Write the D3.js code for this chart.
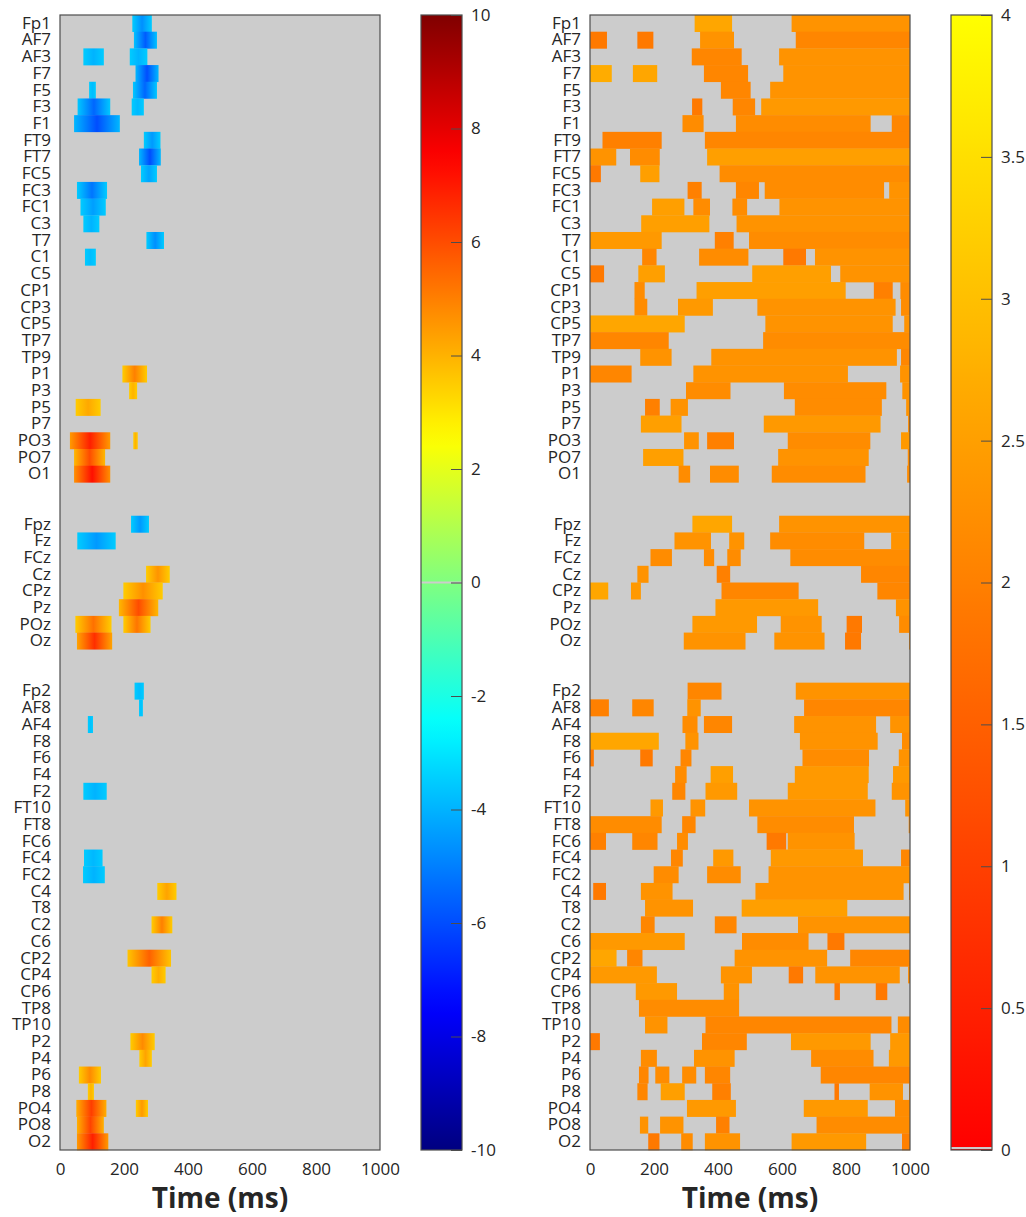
<!DOCTYPE html>
<html>
<head>
<meta charset="UTF-8">
<title>Time-channel maps</title>
<script src="https://cdn.jsdelivr.net/npm/d3@7/dist/d3.min.js"></script>
<style>
  body { margin: 0; background: #fff; }
  svg text { font-family: "Open Sans", "Noto Sans", sans-serif; fill: #262626; }
</style>
</head>
<body>
<svg width="1026" height="1217"></svg>
<script>
// channel rows, null = blank spacer row
var channels = ["Fp1","AF7","AF3","F7","F5","F3","F1","FT9","FT7","FC5","FC3","FC1","C3","T7","C1","C5",
  "CP1","CP3","CP5","TP7","TP9","P1","P3","P5","P7","PO3","PO7","O1", null, null,
  "Fpz","Fz","FCz","Cz","CPz","Pz","POz","Oz", null, null,
  "Fp2","AF8","AF4","F8","F6","F4","F2","FT10","FT8","FC6","FC4","FC2","C4","T8","C2","C6",
  "CP2","CP4","CP6","TP8","TP10","P2","P4","P6","P8","PO4","PO8","O2"];

var timeTicks = [0, 200, 400, 600, 800, 1000];
var leftTicks = [-10, -8, -6, -4, -2, 0, 2, 4, 6, 8, 10];
var rightTicks = [0, 0.5, 1, 1.5, 2, 2.5, 3, 3.5, 4];

// [channel, start ms, end ms, peak value]
var leftSegs = [
  ["Fp1",226,287,-4.7], ["AF7",231,303,-5.7],
  ["AF3",73,137,-4.0], ["AF3",218,273,-4.0],
  ["F7",236,308,-6.0],
  ["F5",91,112,-3.8], ["F5",228,303,-5.5],
  ["F3",55,157,-5.5], ["F3",224,262,-3.9],
  ["F1",44,187,-6.0], ["FT9",262,314,-4.5], ["FT7",247,315,-6.0],
  ["FC5",253,303,-4.3], ["FC3",53,147,-5.2], ["FC1",64,143,-4.4],
  ["C3",73,123,-4.0], ["T7",270,325,-4.7], ["C1",78,112,-3.8],
  ["P1",195,272,5.0], ["P3",216,241,4.0], ["P5",49,127,4.2],
  ["PO3",31,157,6.9], ["PO3",229,243,4.0],
  ["PO7",44,141,6.0], ["O1",44,157,7.2],
  ["Fpz",222,278,-4.5], ["Fz",54,174,-4.5], ["Cz",269,343,4.6],
  ["CPz",198,321,4.7], ["Pz",184,307,6.0],
  ["POz",48,161,5.3], ["POz",198,283,5.2], ["Oz",53,163,6.6],
  ["Fp2",233,262,-3.8], ["AF8",247,259,-3.7], ["AF4",87,103,-3.7],
  ["F2",73,146,-4.0], ["FC4",75,133,-3.9], ["FC2",72,140,-4.0],
  ["C4",304,364,4.3], ["C2",286,351,5.0], ["CP2",211,347,5.6], ["CP4",286,330,4.1],
  ["P2",220,296,4.8], ["P4",248,287,4.3], ["P6",59,128,4.8], ["P8",87,106,4.0],
  ["PO4",51,145,6.3], ["PO4",237,275,4.5], ["PO8",53,137,6.2], ["O2",53,151,6.9]
];

var rightSegs = [
  ["Fp1",327,444,2.6],["Fp1",630,1000,2.3],
  ["AF7",0,53,1.9],["AF7",148,198,1.9],["AF7",344,450,2.3],["AF7",643,1000,2.1],
  ["AF3",318,474,2.1],["AF3",591,1000,2.3],
  ["F7",0,68,2.7],["F7",134,210,2.6],["F7",356,494,2.1],["F7",604,1000,2.3],
  ["F5",409,502,2.1],["F5",563,1000,2.3],
  ["F3",319,351,1.9],["F3",446,516,2.1],["F3",535,1000,2.4],
  ["F1",289,355,2.2],["F1",456,877,2.2],["F1",943,1000,2.1],
  ["FT9",39,224,2.0],["FT9",359,1000,2.1],
  ["FT7",0,82,2.3],["FT7",125,218,2.2],["FT7",366,1000,2.5],
  ["FC5",0,34,1.9],["FC5",157,217,2.5],["FC5",405,1000,2.2],
  ["FC3",305,349,2.0],["FC3",456,528,2.1],["FC3",546,919,2.2],["FC3",935,1000,2.3],
  ["FC1",194,295,2.5],["FC1",323,375,2.2],["FC1",445,491,2.2],["FC1",592,1000,2.3],
  ["C3",160,373,2.5],["C3",458,1000,2.3],
  ["T7",0,224,2.4],["T7",390,449,2.0],["T7",497,1000,2.2],
  ["C1",163,208,2.1],["C1",341,495,2.2],["C1",604,675,1.9],["C1",703,1000,2.3],
  ["C5",0,44,1.9],["C5",151,234,2.5],["C5",507,753,2.5],["C5",782,1000,2.3],
  ["CP1",139,171,2.2],["CP1",333,799,2.5],["CP1",887,946,2.0],["CP1",970,1000,2.2],
  ["CP3",139,179,2.2],["CP3",275,384,2.4],["CP3",523,955,2.3],["CP3",972,1000,2.2],
  ["CP5",0,296,2.6],["CP5",548,946,2.3],["CP5",982,1000,2.3],
  ["TP7",0,246,2.1],["TP7",541,1000,2.2],
  ["TP9",157,255,2.3],["TP9",379,959,2.3],["TP9",972,1000,2.1],
  ["P1",0,130,2.1],["P1",323,806,2.3],["P1",969,1000,2.3],
  ["P3",300,439,2.2],["P3",606,926,2.2],["P3",976,1000,2.3],
  ["P5",172,218,2.0],["P5",252,306,2.3],["P5",640,912,2.2],["P5",988,1000,2.3],
  ["P7",159,286,2.5],["P7",543,908,2.4],["P7",994,1000,2.2],
  ["PO3",294,340,2.3],["PO3",366,450,2.0],["PO3",618,876,2.2],["PO3",972,1000,2.4],
  ["PO7",166,292,2.5],["PO7",588,871,2.3],["PO7",993,1000,2.2],
  ["O1",277,313,2.2],["O1",375,465,2.2],["O1",568,861,2.2],["O1",991,1000,2.2],
  ["Fpz",320,444,2.6],["Fpz",591,1000,2.3],
  ["Fz",264,378,2.3],["Fz",435,482,2.3],["Fz",563,857,2.2],["Fz",941,1000,2.3],
  ["FCz",189,256,2.2],["FCz",356,388,2.2],["FCz",429,471,2.2],["FCz",626,1000,2.2],
  ["Cz",148,183,2.3],["Cz",396,438,2.0],["Cz",847,1000,2.1],
  ["CPz",0,57,2.6],["CPz",128,159,2.4],["CPz",411,652,2.1],["CPz",898,1000,2.1],
  ["Pz",392,713,2.4],["Pz",956,1000,2.3],
  ["POz",320,522,2.4],["POz",596,724,2.3],["POz",802,850,1.9],["POz",966,1000,2.2],
  ["Oz",293,486,2.3],["Oz",576,733,2.3],["Oz",797,847,1.9],["Oz",997,1000,2.2],
  ["Fp2",305,411,2.1],["Fp2",643,1000,2.3],
  ["AF8",0,59,2.0],["AF8",132,199,2.1],["AF8",304,346,2.3],["AF8",669,1000,2.1],
  ["AF4",289,336,2.2],["AF4",356,444,2.1],["AF4",638,894,2.3],["AF4",938,1000,2.3],
  ["F8",0,215,2.6],["F8",298,339,2.3],["F8",656,899,2.3],["F8",975,1000,2.2],
  ["F6",0,12,1.9],["F6",157,196,1.9],["F6",283,317,2.1],["F6",664,872,2.2],["F6",965,1000,2.3],
  ["F4",266,302,2.2],["F4",377,447,2.5],["F4",640,871,2.4],["F4",947,1000,2.4],
  ["F2",257,298,2.1],["F2",361,460,2.4],["F2",618,868,2.4],["F2",943,1000,2.3],
  ["FT10",189,228,2.4],["FT10",314,360,2.3],["FT10",497,892,2.3],["FT10",985,1000,2.3],
  ["FT8",0,224,2.2],["FT8",288,330,2.1],["FT8",523,825,2.2],["FT8",996,1000,2.2],
  ["FC6",0,50,2.0],["FC6",132,211,2.1],["FC6",272,306,2.2],["FC6",552,613,1.9],["FC6",618,827,2.3],
  ["FC4",253,290,2.1],["FC4",385,448,2.4],["FC4",565,853,2.4],["FC4",972,1000,2.1],
  ["FC2",199,277,2.2],["FC2",366,471,2.2],["FC2",558,1000,2.3],
  ["C4",10,50,1.9],["C4",159,258,2.3],["C4",517,980,2.3],["C4",997,1000,2.2],
  ["T8",172,322,2.3],["T8",474,804,2.5],
  ["C2",159,202,2.1],["C2",390,458,2.1],["C2",650,1000,2.3],
  ["C6",0,296,2.4],["C6",475,683,2.2],["C6",742,795,1.9],
  ["CP2",0,83,2.6],["CP2",116,164,2.1],["CP2",452,741,2.3],["CP2",813,1000,2.1],
  ["CP4",0,209,2.4],["CP4",409,506,2.3],["CP4",621,666,1.9],["CP4",704,968,2.3],["CP4",994,1000,2.2],
  ["CP6",143,272,2.4],["CP6",418,466,2.3],["CP6",764,781,1.9],["CP6",893,929,1.9],
  ["TP8",153,466,2.2],
  ["TP10",172,242,2.3],["TP10",361,942,2.1],["TP10",962,1000,2.2],
  ["P2",0,31,1.9],["P2",350,490,2.1],["P2",628,877,2.4],["P2",938,1000,2.4],
  ["P4",159,209,2.2],["P4",325,452,2.3],["P4",691,886,2.2],["P4",934,1000,2.4],
  ["P6",153,183,2.1],["P6",204,248,2.2],["P6",288,332,2.2],["P6",359,438,2.1],["P6",721,1000,2.1],
  ["P8",148,180,2.1],["P8",221,296,2.5],["P8",382,440,2.0],["P8",764,778,1.9],["P8",874,978,2.3],["P8",997,1000,2.2],
  ["PO4",303,456,2.4],["PO4",668,868,2.4],["PO4",953,1000,2.2],
  ["PO8",156,182,2.3],["PO8",219,292,2.3],["PO8",394,436,2.0],["PO8",708,1000,2.2],
  ["O2",182,217,1.9],["O2",285,321,2.2],["O2",359,469,2.3],["O2",630,863,2.4],["O2",975,1000,2.0]
];

var svg = d3.select("svg");
var defs = svg.append("defs");
var plotTop = 15, plotBottom = 1150;

function clamp(v) { return Math.max(0, Math.min(1, v)); }
// matlab-like colormaps
function jet(t) {
  return d3.rgb(255 * clamp(1.5 - Math.abs(4 * t - 3)),
                255 * clamp(1.5 - Math.abs(4 * t - 2)),
                255 * clamp(1.5 - Math.abs(4 * t - 1)));
}
function autumn(t) { return d3.rgb(255, 255 * clamp(t), 0); }

var leftColor = function(v) { return jet((v + 10) / 20); };
var rightColor = function(v) { return autumn(v / 4); };

var y = d3.scaleBand().domain(d3.range(channels.length)).range([plotTop, plotBottom]);

function drawPanel(x0, x1, segs, colorOf, shaded, tag) {
  var x = d3.scaleLinear().domain([0, 1000]).range([x0, x1]);
  var g = svg.append("g");

  g.append("rect")
    .attr("x", x0).attr("y", plotTop)
    .attr("width", x1 - x0).attr("height", plotBottom - plotTop)
    .attr("fill", "#cccccc");

  if (shaded) {
    // soft edges: each blob fades toward its boundaries
    segs.forEach(function(d, i) {
      var edge = Math.sign(d[3]) * Math.max(3.5, Math.abs(d[3]) * 0.65);
      var grad = defs.append("linearGradient").attr("id", tag + i);
      grad.append("stop").attr("offset", "0%").attr("stop-color", colorOf(edge));
      grad.append("stop").attr("offset", "50%").attr("stop-color", colorOf(d[3]));
      grad.append("stop").attr("offset", "100%").attr("stop-color", colorOf(edge));
    });
  }

  g.append("g")
    .selectAll("rect")
    .data(segs)
    .enter()
    .append("rect")
    .attr("x", function(d) { return x(d[1]); })
    .attr("y", function(d) { return y(channels.indexOf(d[0])); })
    .attr("width", function(d) { return x(d[2]) - x(d[1]); })
    .attr("height", y.bandwidth() + 0.3)
    .attr("fill", function(d, i) { return shaded ? "url(#" + tag + i + ")" : colorOf(d[3]); });

  g.append("rect")
    .attr("x", x0).attr("y", plotTop)
    .attr("width", x1 - x0).attr("height", plotBottom - plotTop)
    .attr("fill", "none")
    .attr("stroke", "#4d4d4d")
    .attr("stroke-width", 1.2);

  var yAxis = d3.axisLeft(y)
    .tickSize(0).tickPadding(9)
    .tickFormat(function(i) { return channels[i] || ""; });
  g.append("g")
    .attr("transform", "translate(" + x0 + ",0)")
    .call(yAxis)
    .call(function(a) { a.select(".domain").remove(); })
    .selectAll("text")
    .style("font-size", "17px");

  var xAxis = d3.axisBottom(x).tickValues(timeTicks).tickSize(0).tickPadding(13)
    .tickFormat(d3.format("d"));
  g.append("g")
    .attr("transform", "translate(0," + plotBottom + ")")
    .call(xAxis)
    .call(function(a) { a.select(".domain").remove(); })
    .selectAll("text")
    .style("font-size", "17px");

  g.append("text")
    .attr("x", (x0 + x1) / 2)
    .attr("y", 1208)
    .attr("text-anchor", "middle")
    .style("font-size", "28px")
    .style("font-weight", "bold")
    .text("Time (ms)");
}

function drawColorbar(cx0, cx1, lo, hi, ticks, colorOf, tag) {
  var s = d3.scaleLinear().domain([lo, hi]).range([plotBottom, plotTop]);
  var grad = defs.append("linearGradient").attr("id", tag)
    .attr("x1", 0).attr("y1", 1).attr("x2", 0).attr("y2", 0);
  d3.range(0, 1.0001, 0.02).forEach(function(f) {
    grad.append("stop").attr("offset", (f * 100) + "%")
      .attr("stop-color", colorOf(lo + f * (hi - lo)));
  });
  var g = svg.append("g");
  g.append("rect")
    .attr("x", cx0).attr("y", plotTop)
    .attr("width", cx1 - cx0).attr("height", plotBottom - plotTop)
    .attr("fill", "url(#" + tag + ")");
  // zero maps to grey
  g.append("rect")
    .attr("x", cx0).attr("y", Math.min(s(0) - 1, plotBottom - 3))
    .attr("width", cx1 - cx0).attr("height", 2)
    .attr("fill", "#cccccc");
  g.append("rect")
    .attr("x", cx0).attr("y", plotTop)
    .attr("width", cx1 - cx0).attr("height", plotBottom - plotTop)
    .attr("fill", "none")
    .attr("stroke", "#4d4d4d")
    .attr("stroke-width", 1.2);

  var axis = d3.axisRight(s).tickValues(ticks).tickSizeInner(-11).tickSizeOuter(0).tickPadding(9)
    .tickFormat(function(d) { return String(d); });
  var a = g.append("g")
    .attr("transform", "translate(" + cx1 + ",0)")
    .call(axis);
  a.select(".domain").remove();
  a.selectAll("line").attr("stroke", "#4d4d4d");
  a.selectAll("text").style("font-size", "17px");
}

drawPanel(60, 380, leftSegs, leftColor, true, "lg");
drawPanel(590, 910, rightSegs, rightColor, false, "rg");
drawColorbar(421, 462, -10, 10, leftTicks, leftColor, "cbl");
drawColorbar(951, 992, 0, 4, rightTicks, rightColor, "cbr");
</script>
</body>
</html>
